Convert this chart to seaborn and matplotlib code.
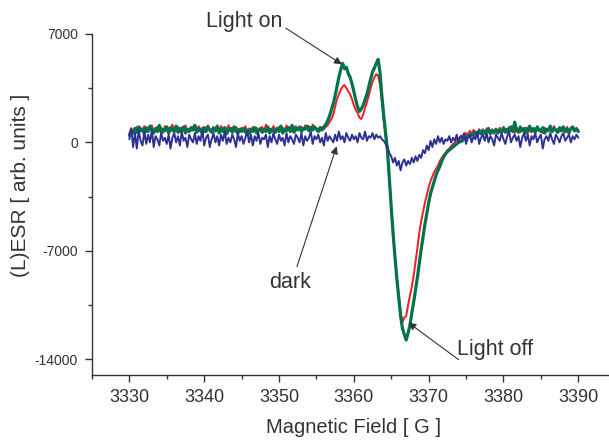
import numpy as np
import pandas as pd
import matplotlib
matplotlib.use("Agg")
import matplotlib.pyplot as plt
from matplotlib.ticker import MultipleLocator
import seaborn as sns

# ---------------- data (0.25 G steps) ----------------
field_start = 3330.0
field_step = 0.25

green_a = [450, 700, 600, 900, 650, 1000, 750, 850, 550, 950,
           700, 1050, 800, 600, 900, 700, 1100, 650, 850, 750,
           1000, 600, 950, 800, 700, 1050, 650, 900, 750, 1000,
           600, 850, 700, 950, 800, 1100, 650, 900, 750, 600,
           950, 700, 1000, 800, 650, 900, 750, 1050, 600, 850,
           700, 950, 550, 800, 900, 650, 1000, 750, 600, 850,
           700, 900, 650, 800, 550, 850, 700, 950, 600, 750,
           900, 650, 800, 700, 1000, 600, 850, 750, 650, 900,
           700, 1050, 600, 850, 750, 950, 700, 1100, 650, 900,
           800, 1000, 700, 900, 850, 1050, 750, 950, 800, 1000]
green_b = [850, 700, 950, 800, 1000, 1150, 1400, 1700, 2100, 2500,
           3000, 3600, 4200, 4700, 5100, 4750, 4850, 4450, 4200, 3800,
           3300, 2750, 2300, 2000, 2150, 2400, 2750, 3100, 3600, 4100,
           4550, 4800, 5100, 5350, 4500, 3000, 1700, 600, -500, -2400,
           -4200, -5900, -7400, -8800, -10000, -11200, -12000, -12400, -12750, -12300,
           -11800, -11000, -10300, -9500, -8700, -7800, -6900, -6100, -5300, -4600,
           -3900, -3300, -2900, -2500, -2100, -1800, -1550, -1200, -950, -750,
           -600, -500, -400, -300, -200, -100, 0, 50, 100, 250,
           300, 450, 350, 550, 500]
green_c = [650, 450, 750, 550, 800, 600, 700, 900, 550, 750,
           650, 850, 600, 800, 700, 950, 650, 850, 750, 1000,
           700, 1300, 800, 650, 1000, 750, 900, 600, 850, 1050,
           700, 900, 650, 1000, 800, 700, 950, 600, 850, 750,
           1050, 700, 900, 800, 650, 950, 750, 1000, 700, 850,
           600, 900, 1000, 750, 850, 700]

red_a = [600, 900, 700, 800, 1000, 650, 950, 750, 1050, 700,
         900, 800, 1100, 650, 850, 1000, 750, 950, 600, 1050,
         800, 900, 700, 1150, 750, 850, 1000, 650, 950, 800,
         1100, 700, 900, 750, 1000, 850, 700, 1050, 800, 950,
         650, 900, 1100, 750, 850, 1000, 700, 950, 800, 1050,
         900, 650, 850, 1100, 750, 950, 700, 1000, 850, 750,
         950, 800, 1050, 700, 900, 650, 1000, 800, 950, 700,
         850, 1000, 750, 1150, 800, 900, 700, 1050, 850, 750,
         1000, 800, 950, 700, 1100, 850, 1000, 750, 900, 1050,
         800, 950, 1000, 850, 1100, 900, 1050, 800, 1150, 950]
red_b = [800, 900, 750, 1000, 850, 1000, 1100, 1300, 1500, 1800,
         2300, 2800, 3100, 3400, 3600, 3700, 3500, 3300, 3100, 2800,
         2400, 2100, 1900, 1600, 1500, 1800, 2200, 2600, 3000, 3500,
         3900, 4200, 4400, 4300, 3700, 2600, 1400, 300, -800, -2500,
         -4300, -5900, -7400, -8700, -9900, -10900, -11600, -11300, -11200, -10500,
         -9900, -9300, -8600, -7700, -6800, -5800, -5100, -4500, -3900, -3400,
         -2900, -2500, -2200, -1900, -1700, -1500, -1200, -1000, -800, -700,
         -500, -400, -250, -100, 0, 150, 250, 350, 450]
red_c = [400, 600, 500, 750, 550, 800, 650, 500, 850, 600,
         750, 550, 900, 650, 700, 850, 550, 800, 650, 950,
         600, 750, 850, 650, 1000, 700, 800, 600, 900, 750,
         650, 850, 700, 950, 600, 800, 700, 900, 650, 1000,
         750, 850, 600, 950, 700, 800, 900, 650, 1050, 750,
         850, 700, 950, 800, 650, 1000, 750, 900, 850, 700,
         950, 800]

blue_a = [200, 900, -300, 600, -400, 800, 100, -200, 700, -100,
          500, 0, 800, -300, 400, 200, -200, 600, 100, 300,
          -100, 500, -400, 300, 600, 0, 400, -200, 700, 100,
          300, -300, 500, 200, 0, 600, -100, 400, 100, 800,
          -200, 300, 500, -300, 200, 600, 0, 400, -200, 500,
          100, 700, -100, 300, 0, 500, 200, -300, 600, 100,
          400, -100, 300, 700, 0, 500, -200, 400, 100, 600,
          -100, 300, 200, 500, -300, 400, 0, 600, 200, -100,
          500, 100, 300, -200, 600, 0, 400, 200, -100, 500,
          300, 0, 600, -200, 400, 100, 300, 700, -100, 400,
          200, 500, 0, 300, -200, 600, 100, 400, 200, 0,
          500, 100, 700, 200, 400, 0, 600, 300, 100, 500,
          200, 400, 0, 600, 300, 200, 700, 100, 400, 300,
          600, 200, 500, 300, 400, 200]
blue_b = [100, -100, -300, -700, -900, -1300, -1000, -1500, -1200, -1800,
          -1300, -1100, -1500, -1200, -1400, -1000, -1300, -900, -1200, -800,
          -1000, -500, -700, -200, -500, 100, -300, 200, -100, 400,
          0, 300, -100, 200, 100, 400, 0, 300]
blue_c = [100, 500, 0, 400, 200, 600, -100, 300, 500, 0,
          400, 200, 700, -100, 300, 500, 100, 600, 0, 400,
          200, -200, 500, 300, 100, 600, 200, -100, 400, 700,
          0, 300, 500, 100, 400, -300, 300, 600, 100, 500,
          -200, 400, 200, 600, 0, 300, 500, -400, 200, 400,
          100, 600, 200, -100, 500, 300, 0, 400, 600, 100,
          300, 500, 0, 400, 200, 500, 300]

green = green_a + green_b + green_c
red = red_a + red_b + red_c
blue = blue_a + blue_b + blue_c

x_ticks = [3330, 3340, 3350, 3360, 3370, 3380, 3390]
y_ticks = [-14000, -7000, 0, 7000]

n = len(green)
field = field_start + field_step * np.arange(n)

df = pd.DataFrame({
    "field": np.concatenate([field, field, field]),
    "signal": np.concatenate([red, green, blue]),
    "series": ["red"] * n + ["green"] * n + ["blue"] * n,
})

# ---------------- style ----------------
sns.set_style("ticks")
plt.rcParams["font.family"] = ["Liberation Sans", "DejaVu Sans"]
plt.rcParams["axes.unicode_minus"] = False
txt = "#333333"

fig = plt.figure(figsize=(6.09, 4.40), dpi=100)
ax = fig.add_axes([0.151, 0.148, 0.86, 0.775])

colors = {"red": "#EE1C25", "green": "#00734A", "blue": "#2E3192"}
widths = {"red": 1.4, "green": 2.3, "blue": 1.4}
for name in ["red", "green", "blue"]:
    sns.lineplot(data=df[df["series"] == name], x="field", y="signal",
                 color=colors[name], lw=widths[name], ax=ax,
                 estimator=None, sort=False)

ax.set_xlim(3325, 3395)
ax.set_ylim(-15000, 7000)
ax.set_xticks(x_ticks)
ax.set_yticks(y_ticks)
ax.xaxis.set_minor_locator(MultipleLocator(5))
ax.yaxis.set_minor_locator(MultipleLocator(3500))
ax.tick_params(axis="x", which="major", labelsize=13, length=5, width=1,
               colors=txt, pad=5)
ax.tick_params(axis="y", which="major", labelsize=10, length=5, width=1,
               colors=txt, pad=5)
ax.tick_params(which="minor", length=3, width=1, colors=txt)

for s in ["top", "right"]:
    ax.spines[s].set_visible(False)
for s in ["left", "bottom"]:
    ax.spines[s].set_color(txt)
    ax.spines[s].set_linewidth(1)

ax.set_xlabel("Magnetic Field [ G ]", fontsize=14.5, color=txt, labelpad=9)
ax.set_ylabel("(L)ESR [ arb. units ]", fontsize=15, color=txt)
ax.yaxis.set_label_coords(-0.118, 0.557)

# annotations
arrow = dict(arrowstyle="-|>", color="#333333", lw=0.8, mutation_scale=11,
             shrinkA=0, shrinkB=0)
ax.text(3345.3, 7820, "Light on", fontsize=15.5, color=txt,
        ha="center", va="center", clip_on=False)
ax.annotate("", xy=(3358.4, 5040), xytext=(3350.9, 7370),
            arrowprops=arrow, annotation_clip=False)
ax.text(3351.5, -9050, "dark", fontsize=15.5, color=txt,
        ha="center", va="center")
ax.annotate("", xy=(3357.7, -260), xytext=(3352.4, -8010), arrowprops=arrow)
ax.text(3378.9, -13380, "Light off", fontsize=15.5, color=txt,
        ha="center", va="center")
ax.annotate("", xy=(3367.3, -11630), xytext=(3374.0, -14020), arrowprops=arrow)

fig.savefig("out.png", dpi=100)
